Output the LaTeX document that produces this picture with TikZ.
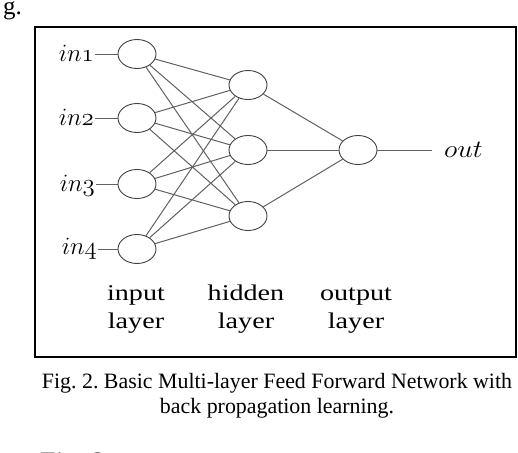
\documentclass[tikz,border=0pt]{standalone}
\usepackage{fontspec}
\setmainfont{Liberation Serif}
\usetikzlibrary{shapes.geometric}
\frenchspacing
\tikzset{
  neuron/.style={ellipse, draw=black!75, line width=0.9pt, minimum width=38pt, minimum height=29pt, inner sep=0pt, fill=white},
  wire/.style={draw=black!62, line width=1pt},
  inlab/.style={inner sep=0pt, anchor=base east},
  laylab/.style={inner sep=0pt, align=center, anchor=base},
}
\newcommand{\inlabtext}[1]{\scalebox{1.0}[1]{\fontsize{28}{28}\selectfont$\mathnormal{#1}$}}
\newcommand{\laytext}[1]{\scalebox{1.25}[1]{\fontsize{22.5}{28}\selectfont #1}}
\begin{document}
\begin{tikzpicture}[x=1pt,y=-1pt]
\useasboundingbox (0,0) rectangle (518,452);
\fill[white] (0,0) rectangle (518,452);
% frame
\draw[line width=2.6pt] (35,27) rectangle (516,357);
% nodes
\node[neuron] (i1) at (137,54) {};
\node[neuron] (i2) at (137,118) {};
\node[neuron] (i3) at (137,184) {};
\node[neuron] (i4) at (137,249) {};
\node[neuron] (h1) at (248,85) {};
\node[neuron] (h2) at (248,150) {};
\node[neuron] (h3) at (248,216) {};
\node[neuron] (o1) at (358,150) {};
% labels
\node[inlab] (l1) at (94,61) {\inlabtext{in1}};
\node[inlab] (l2) at (94,125) {\inlabtext{in2}};
\node[inlab] (l3) at (95,191) {\inlabtext{in3}};
\node[inlab] (l4) at (97,254) {\inlabtext{in4}};
\node[inner sep=0pt, anchor=base west] (out) at (444,157) {\scalebox{1.12}[1]{\fontsize{30}{30}\selectfont$\mathnormal{out}$}};
\coordinate (oe) at (432,150);
% wires
\foreach \a/\y/\x in {1/54/95,2/118/95,3/184/96,4/249/98} {
  \coordinate (s\a) at (\x,\y);
  \draw[wire] (s\a) -- (i\a);
}
\foreach \a in {1,2,3,4} {
  \foreach \b in {1,2,3} {
    \draw[wire] (i\a) -- (h\b);
  }
}
\foreach \b in {1,2,3} {
  \draw[wire] (h\b) -- (o1);
}
\draw[wire] (o1) -- (oe);
% layer labels
\node[laylab] (t1) at (136,300) {\laytext{input}};
\node[laylab] (t1b) at (136,328) {\laytext{layer}};
\node[laylab] (t2) at (246,300) {\laytext{hidden}};
\node[laylab] (t2b) at (246,328) {\laytext{layer}};
\node[laylab] (t3) at (356,300) {\laytext{output}};
\node[laylab] (t3b) at (356,328) {\laytext{layer}};
% caption
\node[laylab] (c1) at (277,388) {\fontsize{21.9}{25}\selectfont Fig. 2. Basic Multi-layer Feed Forward Network with};
\node[laylab] (c2) at (277,413) {\fontsize{21.9}{25}\selectfont back propagation learning.};
% cut text
\node[inner sep=0pt, anchor=base east] (g) at (22,15) {\fontsize{25}{25}\selectfont g.};
\node[inner sep=0pt, anchor=base west] (f2) at (40,471) {\fontsize{28}{28}\selectfont Fig. 2};
\end{tikzpicture}
\end{document}
